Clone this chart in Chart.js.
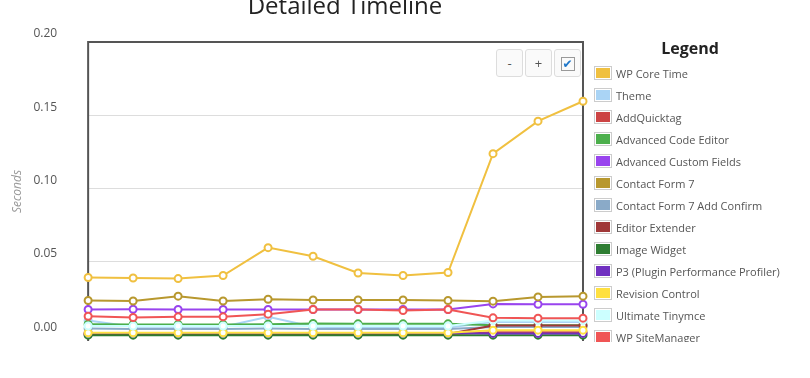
<!DOCTYPE html>
<html>
<head>
<meta charset="utf-8">
<script src="https://cdn.jsdelivr.net/npm/chart.js@4.4.1/dist/chart.umd.min.js"></script>
<style>
  html, body { margin: 0; padding: 0; background: #fff; }
  body { width: 810px; height: 378px; position: relative; overflow: hidden; font-family: "Open Sans", sans-serif; }
  #clip { position: absolute; left: 0; top: 0; width: 810px; height: 342px; overflow: hidden; }
  #wrap { position: absolute; left: 0; top: 0; width: 690px; height: 378px; }
  #title { position: absolute; left: 0; top: -7px; width: 690px; text-align: center; font-size: 24px; line-height: 24px; color: #222; }
  .btn { position: absolute; top: 49px; width: 25px; height: 26px; border: 1px solid #ddd; border-radius: 3px;
         background: #fafafa; color: #555; font-size: 13px; line-height: 26px; text-align: center; }
  .chk { display: inline-block; width: 12px; height: 12px; border: 1px solid #999; margin-top: 6px;
         color: #1d76c9; font-size: 12px; line-height: 12px; font-family: "DejaVu Sans", sans-serif; }
  #legend { position: absolute; left: 594px; top: 0; width: 216px; }
  #legend h3 { position: absolute; left: 0; top: 40px; width: 192px; margin: 0; text-align: center;
               font-size: 16px; line-height: 16px; font-weight: bold; color: #222; }
  #legend ul { position: absolute; left: 0; top: 62px; margin: 0; padding: 0; list-style: none; }
  #legend li { height: 22px; display: flex; align-items: center; font-size: 11px; color: #555; white-space: nowrap; }
  #legend .box { width: 14px; height: 10px; border: 1px solid #ccc; padding: 1px; margin-right: 4px; }
  #legend .box span { display: block; width: 14px; height: 10px; }
</style>
</head>
<body>
<div id="clip">
  <div id="wrap"><canvas id="timeline"></canvas></div>
  <div id="title">Detailed Timeline</div>
  <div class="btn" style="left:496px">-</div>
  <div class="btn" style="left:525px">+</div>
  <div class="btn" style="left:554px"><span class="chk">✔</span></div>
  <div id="legend"><h3>Legend</h3><ul id="legend-list"></ul></div>
</div>
<script>
// Eje X: 12 perfiles consecutivos (sin etiquetas visibles)
const categories = ["1", "2", "3", "4", "5", "6", "7", "8", "9", "10", "11", "12"];
const yTicks = [0, 0.05, 0.10, 0.15, 0.20];

const seriesNames = [
  "WP Core Time", "Theme", "AddQuicktag", "Advanced Code Editor", "Advanced Custom Fields",
  "Contact Form 7", "Contact Form 7 Add Confirm", "Editor Extender", "Image Widget",
  "P3 (Plugin Performance Profiler)", "Revision Control", "Ultimate Tinymce", "WP SiteManager",
];
const seriesColors = [
  "#f0c040", "#aad4f5", "#cc4444", "#4caf4c", "#9944ee",
  "#b8982e", "#8aaac8", "#a03838", "#2e7d32",
  "#7030c0", "#ffe040", "#ccffff", "#f05555",
];

const wpCoreTime = [0.0393, 0.0390, 0.0386, 0.0407, 0.0597, 0.0538, 0.0424, 0.0407, 0.0427, 0.1238, 0.1460, 0.1596];
const theme = [0.0100, 0.0058, 0.0058, 0.0058, 0.0125, 0.0058, 0.0052, 0.0052, 0.0052, 0.0090, 0.0090, 0.0090];
const addQuicktag = [0.0006, 0.0006, 0.0006, 0.0006, 0.0006, 0.0006, 0.0006, 0.0006, 0.0006, 0.0020, 0.0020, 0.0020];
const advancedCodeEditor = [0.0075, 0.0073, 0.0073, 0.0073, 0.0075, 0.0080, 0.0077, 0.0077, 0.0077, 0.0068, 0.0068, 0.0068];
const advancedCustomFields = [0.0175, 0.0177, 0.0175, 0.0175, 0.0175, 0.0175, 0.0175, 0.0175, 0.0175, 0.0213, 0.0211, 0.0211];
const contactForm7 = [0.0236, 0.0233, 0.0266, 0.0233, 0.0245, 0.0240, 0.0240, 0.0240, 0.0236, 0.0232, 0.0261, 0.0266];
const cf7AddConfirm = [0.0045, 0.0042, 0.0042, 0.0042, 0.0045, 0.0042, 0.0042, 0.0042, 0.0042, 0.0055, 0.0055, 0.0055];
const editorExtender = [0.0008, 0.0008, 0.0008, 0.0008, 0.0008, 0.0008, 0.0008, 0.0008, 0.0008, 0.0065, 0.0065, 0.0065];
const imageWidget = [0.0000, 0.0000, 0.0000, 0.0000, 0.0000, 0.0000, 0.0000, 0.0000, 0.0000, 0.0000, 0.0000, 0.0000];
const p3Profiler = [0.0015, 0.0015, 0.0015, 0.0015, 0.0015, 0.0015, 0.0015, 0.0015, 0.0015, 0.0012, 0.0012, 0.0012];
const revisionControl = [0.0016, 0.0016, 0.0016, 0.0016, 0.0016, 0.0016, 0.0016, 0.0016, 0.0016, 0.0034, 0.0034, 0.0034];
const ultimateTinymce = [0.0062, 0.0062, 0.0062, 0.0062, 0.0062, 0.0062, 0.0062, 0.0062, 0.0062, 0.0100, 0.0100, 0.0100];
const wpSiteManager = [0.0129, 0.0120, 0.0125, 0.0125, 0.0143, 0.0175, 0.0175, 0.0168, 0.0175, 0.0118, 0.0116, 0.0116];

const seriesData = [
  wpCoreTime, theme, addQuicktag, advancedCodeEditor, advancedCustomFields,
  contactForm7, cf7AddConfirm, editorExtender, imageWidget,
  p3Profiler, revisionControl, ultimateTinymce, wpSiteManager,
];

// Marco del area de trazado (arriba, izquierda, derecha)
const plotFrame = {
  id: "plotFrame",
  beforeDatasetsDraw(chart) {
    const { ctx, chartArea: a } = chart;
    ctx.save();
    ctx.strokeStyle = "#555";
    ctx.lineWidth = 2;
    ctx.beginPath();
    ctx.moveTo(a.left, a.bottom);
    ctx.lineTo(a.left, a.top);
    ctx.lineTo(a.right, a.top);
    ctx.lineTo(a.right, a.bottom);
    ctx.stroke();
    ctx.restore();
  },
};

function renderLegend() {
  const list = document.getElementById("legend-list");
  list.innerHTML = seriesNames
    .map((name, i) => `<li><div class="box"><span style="background:${seriesColors[i]}"></span></div>${name}</li>`)
    .join("");
}

function renderChart() {
  const ctx = document.getElementById("timeline").getContext("2d");
  new Chart(ctx, {
    type: "line",
    data: {
      labels: categories,
      datasets: seriesNames.map((name, i) => ({
        label: name,
        data: seriesData[i],
        borderColor: seriesColors[i],
        backgroundColor: "#fff",
        borderWidth: 2,
        pointRadius: 3.5,
        pointBorderWidth: 2,
        pointBackgroundColor: "#fff",
        pointBorderColor: seriesColors[i],
        tension: 0,
        clip: false,
        order: -i,
      })),
    },
    options: {
      responsive: false,
      animation: false,
      layout: { padding: { left: 10, top: 42, right: 107, bottom: 37 } },
      plugins: { legend: { display: false }, tooltip: { enabled: false } },
      scales: {
        x: { display: false, offset: false },
        y: {
          min: -0.004,
          max: 0.2,
          afterBuildTicks: (s) => { s.ticks = yTicks.map((v) => ({ value: v })); },
          border: { display: false },
          grid: { color: "#dddddd", drawTicks: true, tickLength: 31, tickColor: "rgba(0,0,0,0)", lineWidth: 1 },
          ticks: {
            padding: 0,
            labelOffset: -8,
            color: "#555",
            font: { family: "Open Sans", size: 12 },
            callback: (v) => Number(v).toFixed(2),
          },
          title: {
            display: true,
            text: "Seconds",
            color: "#999",
            font: { family: "Open Sans", size: 12, style: "italic" },
            padding: { top: 0, bottom: 9 },
          },
        },
      },
    },
    plugins: [plotFrame],
  });
}

document.getElementById("timeline").width = 690;
document.getElementById("timeline").height = 378;
renderLegend();
renderChart();
</script>
</body>
</html>
